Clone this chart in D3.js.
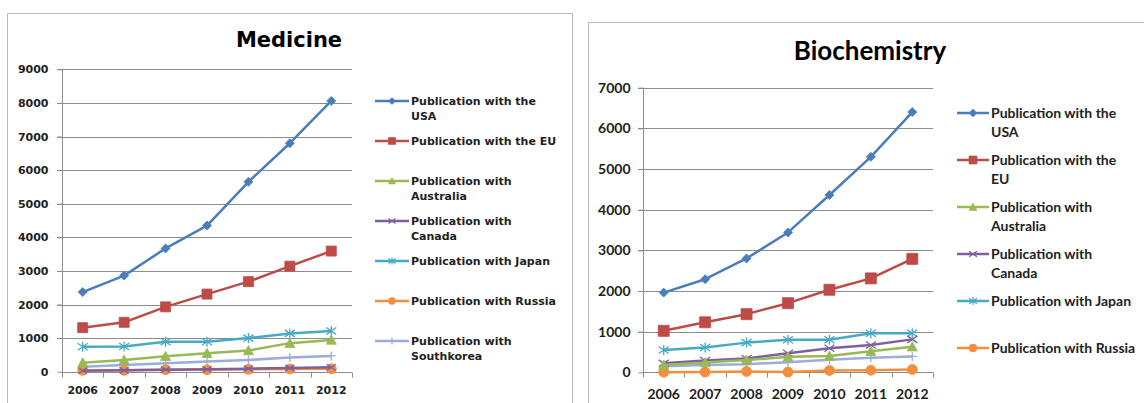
<!DOCTYPE html>
<html><head><meta charset="utf-8">
<script src="https://cdn.jsdelivr.net/npm/d3@7"></script>
<style>html,body{margin:0;padding:0;background:#fff;}svg{display:block;}</style>
</head><body>
<svg id="c" width="1144" height="403"></svg>
<script>
// ---- data ----
const years = ["2006","2007","2008","2009","2010","2011","2012"];
const seriesNames = ["Publication with the USA","Publication with the EU","Publication with Australia","Publication with Canada","Publication with Japan","Publication with Russia","Publication with Southkorea"];
const seriesColors = ["#4A7EBB","#BE4B48","#98B954","#7D60A0","#46AAC5","#F38E3E","#9AADDB"];
const seriesMarkers = ["diamond","square","triangle","x","asterisk","circle","plus"];

const medTicks = [0,1000,2000,3000,4000,5000,6000,7000,8000,9000];
const medUSA = [2370,2860,3670,4350,5650,6800,8060];
const medEU = [1310,1470,1930,2310,2680,3140,3590];
const medAustralia = [270,350,460,550,630,850,945];
const medCanada = [30,40,60,70,90,110,130];
const medJapan = [740,750,890,890,1000,1140,1210];
const medRussia = [40,40,60,60,70,80,90];
const medSouthkorea = [150,200,250,300,350,420,470];

const bioTicks = [0,1000,2000,3000,4000,5000,6000,7000];
const bioUSA = [1960,2290,2800,3440,4360,5300,6400];
const bioEU = [1020,1230,1430,1700,2030,2310,2790];
const bioAustralia = [180,240,300,380,400,520,630];
const bioCanada = [220,290,340,470,590,670,810];
const bioJapan = [550,610,730,800,800,960,960];
const bioRussia = [0,5,20,5,45,50,70];
const bioSouthkorea = [150,180,200,250,310,360,390];

const medLegendLines = [["Publication with the","USA"],["Publication with the EU"],["Publication with","Australia"],["Publication with","Canada"],["Publication with Japan"],["Publication with Russia"],["Publication with","Southkorea"]];
const bioLegendLines = [["Publication with the","USA"],["Publication with the","EU"],["Publication with","Australia"],["Publication with","Canada"],["Publication with Japan"],["Publication with Russia"]];

const svg = d3.select("#c");

// panel borders
svg.append("path").attr("d","M7.5,403 V13.5 H572.5 V403").attr("fill","none").attr("stroke","#b8b8b8").attr("stroke-width",1);
svg.append("path").attr("d","M588.5,403 V22.5 H1144").attr("fill","none").attr("stroke","#b8b8b8").attr("stroke-width",1);

function markerPath(type, s) {
  const h = s/2;
  switch(type){
    case "diamond": return `M0,${-h}L${h},0L0,${h}L${-h},0Z`;
    case "square": return `M${-h},${-h}H${h}V${h}H${-h}Z`;
    case "triangle": return `M0,${-h}L${h},${h*0.85}H${-h}Z`;
    case "circle": return d3.symbol(d3.symbolCircle, Math.PI*h*h)();
    case "x": return `M${-h},${-h*0.7}L${h},${h*0.7}M${-h},${h*0.7}L${h},${-h*0.7}`;
    case "asterisk": return `M${-h},${-h*0.7}L${h},${h*0.7}M${-h},${h*0.7}L${h},${-h*0.7}M0,${-h}V${h}`;
    case "plus": return `M${-h},0H${h}M0,${-h}V${h}`;
  }
}
function isStroked(t){ return t==="x"||t==="asterisk"||t==="plus"; }

function drawChart(cfg){
  const g = svg.append("g");
  const x = d3.scaleBand().domain(years).range([cfg.x0, cfg.x1]).padding(0);
  const y = d3.scaleLinear().domain([0, cfg.ticks[cfg.ticks.length-1]]).range([cfg.yb, cfg.yt]);

  // gridlines
  g.append("g").selectAll("line").data(cfg.ticks.filter(t=>t>0)).join("line")
    .attr("x1",cfg.x0-5).attr("x2",cfg.x1).attr("y1",d=>Math.round(y(d))+0.5).attr("y2",d=>Math.round(y(d))+0.5)
    .attr("stroke","#8c8c8c").attr("stroke-width",1);

  // y axis
  const ya = g.append("g").attr("transform",`translate(${cfg.x0+0.5},0)`)
    .call(d3.axisLeft(y).tickValues(cfg.ticks).tickSize(5).tickPadding(cfg.tickPad).tickFormat(d3.format("d")));
  ya.select(".domain").attr("stroke","#8c8c8c").attr("d",`M0,${cfg.yb}V${cfg.yt}`);
  ya.selectAll(".tick line").attr("stroke","#8c8c8c");
  ya.selectAll(".tick text").attr("font-family",cfg.font).attr("font-weight","bold").attr("font-size",cfg.tickSize).attr("fill","#222");

  // x axis
  const xa = g.append("g").attr("transform",`translate(0,${Math.round(cfg.yb)+0.5})`);
  xa.append("line").attr("x1",cfg.x0).attr("x2",cfg.x1).attr("stroke","#8c8c8c");
  const bounds = years.map(d=>x(d)).concat([x(years[years.length-1])+x.bandwidth()]);
  xa.selectAll("line.t").data(bounds).join("line").attr("class","t")
    .attr("x1",d=>Math.round(d)+0.5).attr("x2",d=>Math.round(d)+0.5).attr("y1",0).attr("y2",5).attr("stroke","#8c8c8c");
  xa.selectAll("text").data(years).join("text")
    .attr("x",d=>x(d)+x.bandwidth()/2).attr("y",cfg.xLabelDy).attr("text-anchor","middle")
    .attr("font-family",cfg.font).attr("font-weight","bold").attr("font-size",cfg.tickSize).attr("fill","#222").text(d=>d);

  // title
  g.append("text").attr("x",cfg.titleX).attr("y",cfg.titleY).attr("text-anchor","middle")
    .attr("font-family",cfg.titleFont).attr("font-weight","bold").attr("font-size",cfg.titleSize).attr("fill","#000").text(cfg.title);

  // series (draw in reverse so USA on top)
  const line = d3.line().x((d,i)=>x(years[i])+x.bandwidth()/2).y(d=>y(d));
  const order = cfg.series.map((s,i)=>i).reverse();
  order.forEach(i=>{
    const vals = cfg.series[i];
    const col = seriesColors[i], mk = seriesMarkers[i];
    const sg = g.append("g");
    sg.append("path").datum(vals).attr("d",line).attr("fill","none").attr("stroke",col).attr("stroke-width",2.5).attr("stroke-linejoin","round");
    sg.selectAll("path.m").data(vals).join("path").attr("class","m")
      .attr("transform",(d,j)=>`translate(${x(years[j])+x.bandwidth()/2},${y(d)})`)
      .attr("d",markerPath(mk, cfg.markerSize[i]))
      .attr("fill",isStroked(mk)?"none":col).attr("stroke",col).attr("stroke-width",isStroked(mk)?1.3:0.8);
  });

  // legend
  const lg = g.append("g");
  cfg.legend.forEach((lines,i)=>{
    const yy = cfg.legY + i*cfg.legStep;
    const col = seriesColors[i], mk = seriesMarkers[i];
    lg.append("line").attr("x1",cfg.legX).attr("x2",cfg.legX+cfg.legLen).attr("y1",yy).attr("y2",yy).attr("stroke",col).attr("stroke-width",2.5);
    lg.append("path").attr("transform",`translate(${cfg.legX+cfg.legLen/2},${yy})`).attr("d",markerPath(mk,cfg.legMarker))
      .attr("fill",isStroked(mk)?"none":col).attr("stroke",col).attr("stroke-width",isStroked(mk)?1.2:0.6);
    const t = lg.append("text").attr("x",cfg.legX+cfg.legLen+2).attr("y",yy+cfg.legFont*0.36)
      .attr("font-family",cfg.font).attr("font-weight","bold").attr("font-size",cfg.legFont).attr("fill","#222");
    lines.forEach((ln,k)=>{ t.append("tspan").attr("x",cfg.legX+cfg.legLen+2).attr("dy",k===0?0:cfg.legLine).text(ln); });
  });
}

drawChart({
  x0:62, x1:352, yt:69.3, yb:371.7, ticks:medTicks,
  series:[medUSA,medEU,medAustralia,medCanada,medJapan,medRussia,medSouthkorea],
  font:"DejaVu Sans", tickSize:11, tickPad:9, xLabelDy:21,
  title:"Medicine", titleFont:"DejaVu Sans", titleSize:21, titleX:289, titleY:47,
  markerSize:[9,10,10,9,10,10,9],
  legend:medLegendLines, legX:375, legLen:34, legY:101, legStep:40, legFont:11, legLine:15, legMarker:7
});
drawChart({
  x0:643, x1:933, yt:87.7, yb:372.3, ticks:bioTicks,
  series:[bioUSA,bioEU,bioAustralia,bioCanada,bioJapan,bioRussia,bioSouthkorea],
  font:"Lato", tickSize:14, tickPad:8, xLabelDy:26,
  title:"Biochemistry", titleFont:"Lato", titleSize:26, titleX:870, titleY:60,
  markerSize:[9,11,10,10,10,10,9],
  legend:bioLegendLines, legX:957, legLen:32, legY:113, legStep:47, legFont:14, legLine:19, legMarker:8
});
</script>
</body></html>
